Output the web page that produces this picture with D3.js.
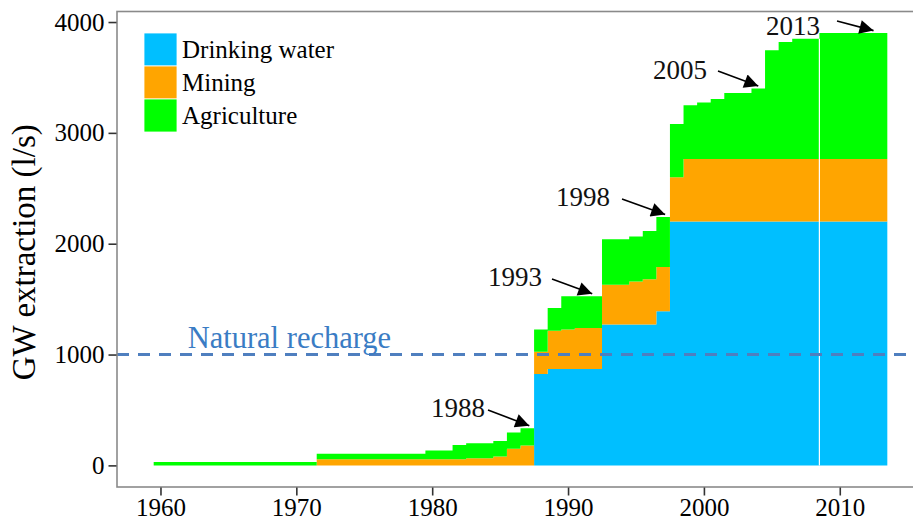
<!DOCTYPE html>
<html><head><meta charset="utf-8">
<script src="https://cdn.jsdelivr.net/npm/d3@7"></script>
<style>
body{margin:0;background:#fff;}
text{font-family:"Liberation Serif","Times New Roman",serif;}
</style></head>
<body><svg id="c" width="913" height="523"></svg>
<script>
const years = [1960,1961,1962,1963,1964,1965,1966,1967,1968,1969,1970,1971,1972,1973,1974,1975,1976,1977,1978,1979,1980,1981,1982,1983,1984,1985,1986,1987,1988,1989,1990,1991,1992,1993,1994,1995,1996,1997,1998,1999,2000,2001,2002,2003,2004,2005,2006,2007,2008,2009,2010,2011,2012,2013];
const drinking = [0,0,0,0,0,0,0,0,0,0,0,0, 0,0,0,0,0,0,0,0, 0,0,0,0,0,0,0,0, 825,870,870,870,870, 1270,1270,1270,1270,1390, 2200,2200,2200,2200,2200,2200,2200,2200,2200,2200,2200,2200,2200,2200,2200,2200];
const mining = [0,0,0,0,0,0,0,0,0,0,0,0, 55,55,55,55,55,55,55,55, 55,55,55,65,65,80,150,180, 200,345,355,370,370, 360,360,390,410,400, 400,565,565,565,565,565,565,565,565,565,565,565,565,565,565,565];
const agriculture = [30,30,30,30,30,30,30,30,30,30,30,30, 50,50,50,50,50,50,50,50, 80,80,130,135,135,141,146,156, 200,205,300,285,285, 410,410,405,435,450, 480,485,510,540,595,595,635,980,1055,1085,1085,1135,1135,1135,1135,1135];
const seriesNames = ["Drinking water","Mining","Agriculture"];
const seriesColors = ["#00BFFF","#FFA500","#00FF00"];
const yTicks = [0,1000,2000,3000,4000];
const xTicks = [1960,1970,1980,1990,2000,2010];
const rechargeValue = 1000;
const annotations = [
  {label:"1988", year:1987},
  {label:"1993", year:1992},
  {label:"1998", year:1997},
  {label:"2005", year:2004},
  {label:"2013", year:2013}
];

const svg = d3.select("#c");
const pL = 117, pT = 11.5, pB = 487, pR = 924;
const x = d3.scaleLinear().domain([1956.8, 2016.2]).range([pL, pR]);
const y = d3.scaleLinear().domain([-195, 4095]).range([pB, pT]);

const defs = svg.append("defs");
defs.append("clipPath").attr("id","pc")
  .append("rect").attr("x",pL).attr("y",pT).attr("width",pR-pL).attr("height",pB-pT);

const rows = years.map((yr,i)=>({year:yr, d:drinking[i], m:mining[i], a:agriculture[i]}));
const stack = d3.stack().keys(["d","m","a"])(rows);

const g = svg.append("g").attr("clip-path","url(#pc)");
stack.forEach((layer, li) => {
  const pts = [];
  layer.forEach(s => {
    pts.push({x:s.data.year-0.5, y0:s[0], y1:s[1]});
    pts.push({x:s.data.year+0.5, y0:s[0], y1:s[1]});
  });
  const area = d3.area().x(p=>x(p.x)).y0(p=>y(p.y0)).y1(p=>y(p.y1));
  g.append("path").attr("d", area(pts)).attr("fill", seriesColors[li]).attr("stroke","none");
});
// thin white gap seen in the reference
const gapYear = 2008.5;
g.append("line").attr("x1",x(gapYear)).attr("x2",x(gapYear))
  .attr("y1",y(0)).attr("y2",y(drinking[48]+mining[48]+agriculture[48]))
  .attr("stroke","#fff").attr("stroke-width",1.2);

// natural recharge line
g.append("line").attr("x1",pL).attr("x2",pR).attr("y1",y(rechargeValue)).attr("y2",y(rechargeValue))
  .attr("stroke","#4F7FBF").attr("stroke-width",3).attr("stroke-dasharray","12,9");
svg.append("text").attr("x",x(1962.0)).attr("y",y(rechargeValue)-7)
  .attr("fill","#3A7CC4").attr("font-size",30.5).text("Natural recharge");

// panel border
svg.append("rect").attr("x",pL).attr("y",pT).attr("width",pR-pL).attr("height",pB-pT)
  .attr("fill","none").attr("stroke","#8a8a8a").attr("stroke-width",1.6);

// axes
const ya = svg.append("g").attr("transform",`translate(${pL-0.5},0)`)
  .call(d3.axisLeft(y).tickValues(yTicks).tickSize(8).tickPadding(4).tickFormat(d3.format("d")));
ya.select(".domain").remove();
ya.selectAll("text").attr("font-size",25).attr("fill","#000").attr("font-family","Liberation Serif");
ya.selectAll("line").attr("stroke","#333").attr("stroke-width",1.6);

const xa = svg.append("g").attr("transform",`translate(0,${pB+0.5})`)
  .call(d3.axisBottom(x).tickValues(xTicks).tickSize(8).tickPadding(3).tickFormat(d3.format("d")));
xa.select(".domain").remove();
xa.selectAll("text").attr("font-size",25).attr("fill","#000").attr("font-family","Liberation Serif");
xa.selectAll("line").attr("stroke","#333").attr("stroke-width",1.6);

svg.append("text").attr("transform",`translate(35,${(pT+pB)/2+3}) rotate(-90)`)
  .attr("text-anchor","middle").attr("font-size",33).attr("fill","#000").text("GW extraction (l/s)");

// legend
const lg = svg.append("g").attr("transform","translate(144,33)");
seriesNames.forEach((n,i)=>{
  lg.append("rect").attr("x",0).attr("y",i*33).attr("width",33).attr("height",33)
    .attr("fill",seriesColors[i]).attr("stroke","#fff").attr("stroke-width",0.8);
  lg.append("text").attr("x",38).attr("y",i*33+16.5).attr("dy","0.35em")
    .attr("font-size",25).attr("fill","#000").text(n);
});

// annotations: text + arrows pointing to bar tops
defs.append("marker").attr("id","ah").attr("viewBox","0 0 10 10").attr("refX",10).attr("refY",5)
  .attr("markerWidth",18).attr("markerHeight",14).attr("markerUnits","userSpaceOnUse")
  .attr("orient","auto").append("path").attr("d","M0,0L10,5L0,10Z").attr("fill","#000");
const annPos = {
  "1988": {tx:431, ty:408, x1:488, y1:410, dx:2},
  "1993": {tx:488, ty:277, x1:552, y1:279, dx:-3},
  "1998": {tx:556, ty:197, x1:622, y1:199, dx:2},
  "2005": {tx:653, ty:70, x1:718, y1:71, dx:0},
  "2013": {tx:766, ty:26, x1:837, y1:21, dx:-7}
};
annotations.forEach(a=>{
  const i = years.indexOf(a.year);
  const tot = drinking[i]+mining[i]+agriculture[i];
  const p = annPos[a.label];
  const tipX = x(a.year)+p.dx;
  const tipY = y(tot)-2.5;
  svg.append("text").attr("x",p.tx).attr("y",p.ty).attr("dy","0.35em").attr("font-size",27)
    .attr("fill","#111").text(a.label);
  svg.append("line").attr("x1",p.x1).attr("y1",p.y1).attr("x2",tipX).attr("y2",tipY)
    .attr("stroke","#000").attr("stroke-width",1.6).attr("marker-end","url(#ah)");
});
</script></body></html>
